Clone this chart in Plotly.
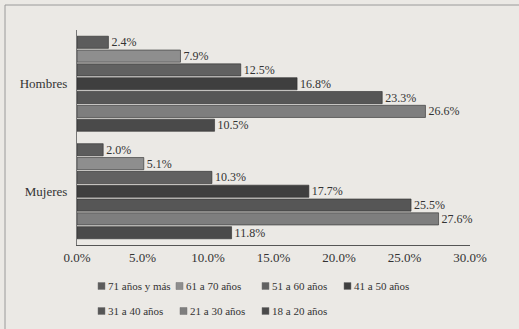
import plotly.graph_objects as go

categories = ["Hombres", "Mujeres"]
age_groups = ["71 años y más", "61 a 70 años", "51 a 60 años", "41 a 50 años",
              "31 a 40 años", "21 a 30 años", "18 a 20 años"]
hombres = [2.4, 7.9, 12.5, 16.8, 23.3, 26.6, 10.5]
mujeres = [2.0, 5.1, 10.3, 17.7, 25.5, 27.6, 11.8]
tick_vals = [0, 5, 10, 15, 20, 25, 30]
tick_text = ["0.0%", "5.0%", "10.0%", "15.0%", "20.0%", "25.0%", "30.0%"]

colors = ["#5c5c5c", "#8e8e8e", "#616161", "#3f3f3f", "#565656", "#7e7e7e", "#4a4a4a"]
font_family = "Liberation Serif, DejaVu Serif, serif"
text_color = "#333333"

W, H = 519, 329
L, R, T, B = 77, 49, 30, 84
PW, PH = W - L - R, H - T - B


def px_x(px):
    return (px - L) / PW


def px_y(py):
    return (H - B - py) / PH


fig = go.Figure()
for i, name in enumerate(age_groups):
    vals = [hombres[i], mujeres[i]]
    fig.add_trace(go.Bar(
        y=categories, x=vals, name=name, orientation="h",
        marker=dict(color=colors[i], line=dict(color="#2e2e2e", width=0.6)),
        text=[f"{v:.1f}%" for v in vals], textposition="outside",
        constraintext="none",
        textfont=dict(family=font_family, size=12, color=text_color),
        cliponaxis=False, showlegend=False,
    ))

# Legend laid out in two rows: swatch square followed by its label
legend_rows = [(286, [(98, 0), (176, 1), (262, 2), (344, 3)]),
               (311, [(98, 4), (180, 5), (262, 6)])]
annotations, shapes = [], []
for row_y, items in legend_rows:
    for sx, idx in items:
        shapes.append(dict(type="rect", xref="paper", yref="paper",
                           x0=px_x(sx), x1=px_x(sx + 7),
                           y0=px_y(row_y + 3.5), y1=px_y(row_y - 3.5),
                           fillcolor=colors[idx], line=dict(color="#777777", width=0.5)))
        annotations.append(dict(xref="paper", yref="paper", x=px_x(sx + 8), y=px_y(row_y),
                                xanchor="left", yanchor="middle", showarrow=False,
                                text=age_groups[idx],
                                font=dict(family=font_family, size=11, color=text_color)))

# Frame lines along the top and left edge
shapes.append(dict(type="line", xref="paper", yref="paper",
                   x0=px_x(5), x1=px_x(519), y0=px_y(5), y1=px_y(5),
                   line=dict(color="#9a9a9a", width=1)))
shapes.append(dict(type="line", xref="paper", yref="paper",
                   x0=px_x(5), x1=px_x(5), y0=px_y(5), y1=px_y(329),
                   line=dict(color="#9a9a9a", width=1)))

fig.update_layout(
    width=W, height=H,
    margin=dict(l=L, r=R, t=T, b=B),
    paper_bgcolor="#ebe9e5", plot_bgcolor="#ebe9e5",
    barmode="group", bargap=0.1, bargroupgap=0.12,
    showlegend=False,
    xaxis=dict(range=[0, 30], tickvals=tick_vals, ticktext=tick_text,
               showgrid=False, zeroline=False, showline=True,
               linecolor="#555555", linewidth=1, ticks="",
               tickfont=dict(family=font_family, size=13, color=text_color)),
    yaxis=dict(autorange="reversed", showgrid=False, zeroline=False,
               showline=True, linecolor="#777777", linewidth=1, ticks="",
               ticklabelstandoff=6,
               tickfont=dict(family=font_family, size=13, color=text_color)),
    annotations=annotations,
    shapes=shapes,
)

fig.write_html("out.html")
